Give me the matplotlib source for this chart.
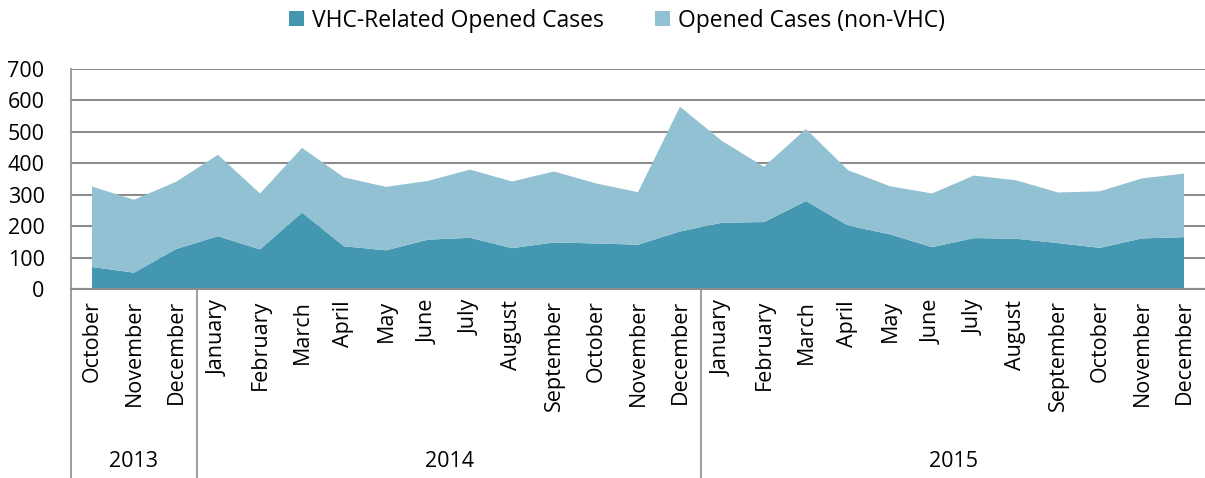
import matplotlib.pyplot as plt
import matplotlib.transforms as mtransforms
import numpy as np

plt.rcParams['font.family'] = ['Open Sans', 'DejaVu Sans']

# data
months = ["October", "November", "December",
          "January", "February", "March", "April", "May", "June", "July",
          "August", "September", "October", "November", "December",
          "January", "February", "March", "April", "May", "June", "July",
          "August", "September", "October", "November", "December"]
years = ["2013", "2014", "2015"]
months_per_year = [3, 12, 12]

vhc = [70, 52, 127,
       168, 126, 243, 136, 123, 157, 163, 130, 148, 145, 141, 183,
       211, 213, 280, 202, 174, 133, 162, 160, 146, 131, 161, 165]
total = [326, 284, 341,
         427, 304, 449, 355, 325, 344, 380, 342, 374, 336, 308, 580,
         471, 389, 509, 378, 327, 304, 361, 346, 307, 311, 352, 367]
non_vhc = [t - v for t, v in zip(total, vhc)]

dark = "#4397B0"
light = "#92C1D3"
grid_col = "#8C8C8C"

fig = plt.figure(figsize=(12.05, 4.78), dpi=100)
ax = fig.add_axes([71 / 1205, 1 - 289 / 478, 1 - 71 / 1205, 220 / 478])

x = np.arange(len(months))
ax.stackplot(x, vhc, non_vhc, colors=[dark, light],
             labels=["VHC-Related Opened Cases", "Opened Cases (non-VHC)"],
             zorder=3)

ax.set_xlim(-0.5, len(months) - 0.5)
ax.set_ylim(0, 700)
ax.set_yticks(np.arange(0, 701, 100))
ax.yaxis.grid(True, color=grid_col, linewidth=1.5, zorder=1)
ax.set_axisbelow(True)

for s in ["top", "right"]:
    ax.spines[s].set_visible(False)
ax.spines["left"].set_color(grid_col)
ax.spines["left"].set_linewidth(1.2)
ax.spines["bottom"].set_color(grid_col)
ax.spines["bottom"].set_linewidth(1.5)
ax.spines["bottom"].set_zorder(4)

ax.tick_params(axis="y", length=0, pad=19, labelsize=15.5)
ax.set_xticks(x)
ax.set_xticklabels(months, rotation=90, fontsize=15.5)
ax.tick_params(axis="x", length=0, pad=8)

# year groups below the month labels
trans = mtransforms.blended_transform_factory(ax.transData, ax.transAxes)
edges = np.concatenate([[0], np.cumsum(months_per_year)]) - 0.5
for e in edges[:-1]:
    ax.plot([e, e], [0, -0.87], transform=trans, color=grid_col,
            linewidth=1.2, clip_on=False)
for i, yr in enumerate(years):
    mid = (edges[i] + edges[i + 1]) / 2
    ax.text(mid, -0.786, yr, transform=trans, ha="center", va="center",
            fontsize=15.5)

fig.legend(loc="upper center", bbox_to_anchor=(0.512, 1.025), ncol=2,
           frameon=False, fontsize=16.5, handlelength=0.65, handleheight=0.65,
           handletextpad=0.35, columnspacing=2.2)

fig.savefig("out.png", dpi=100)
